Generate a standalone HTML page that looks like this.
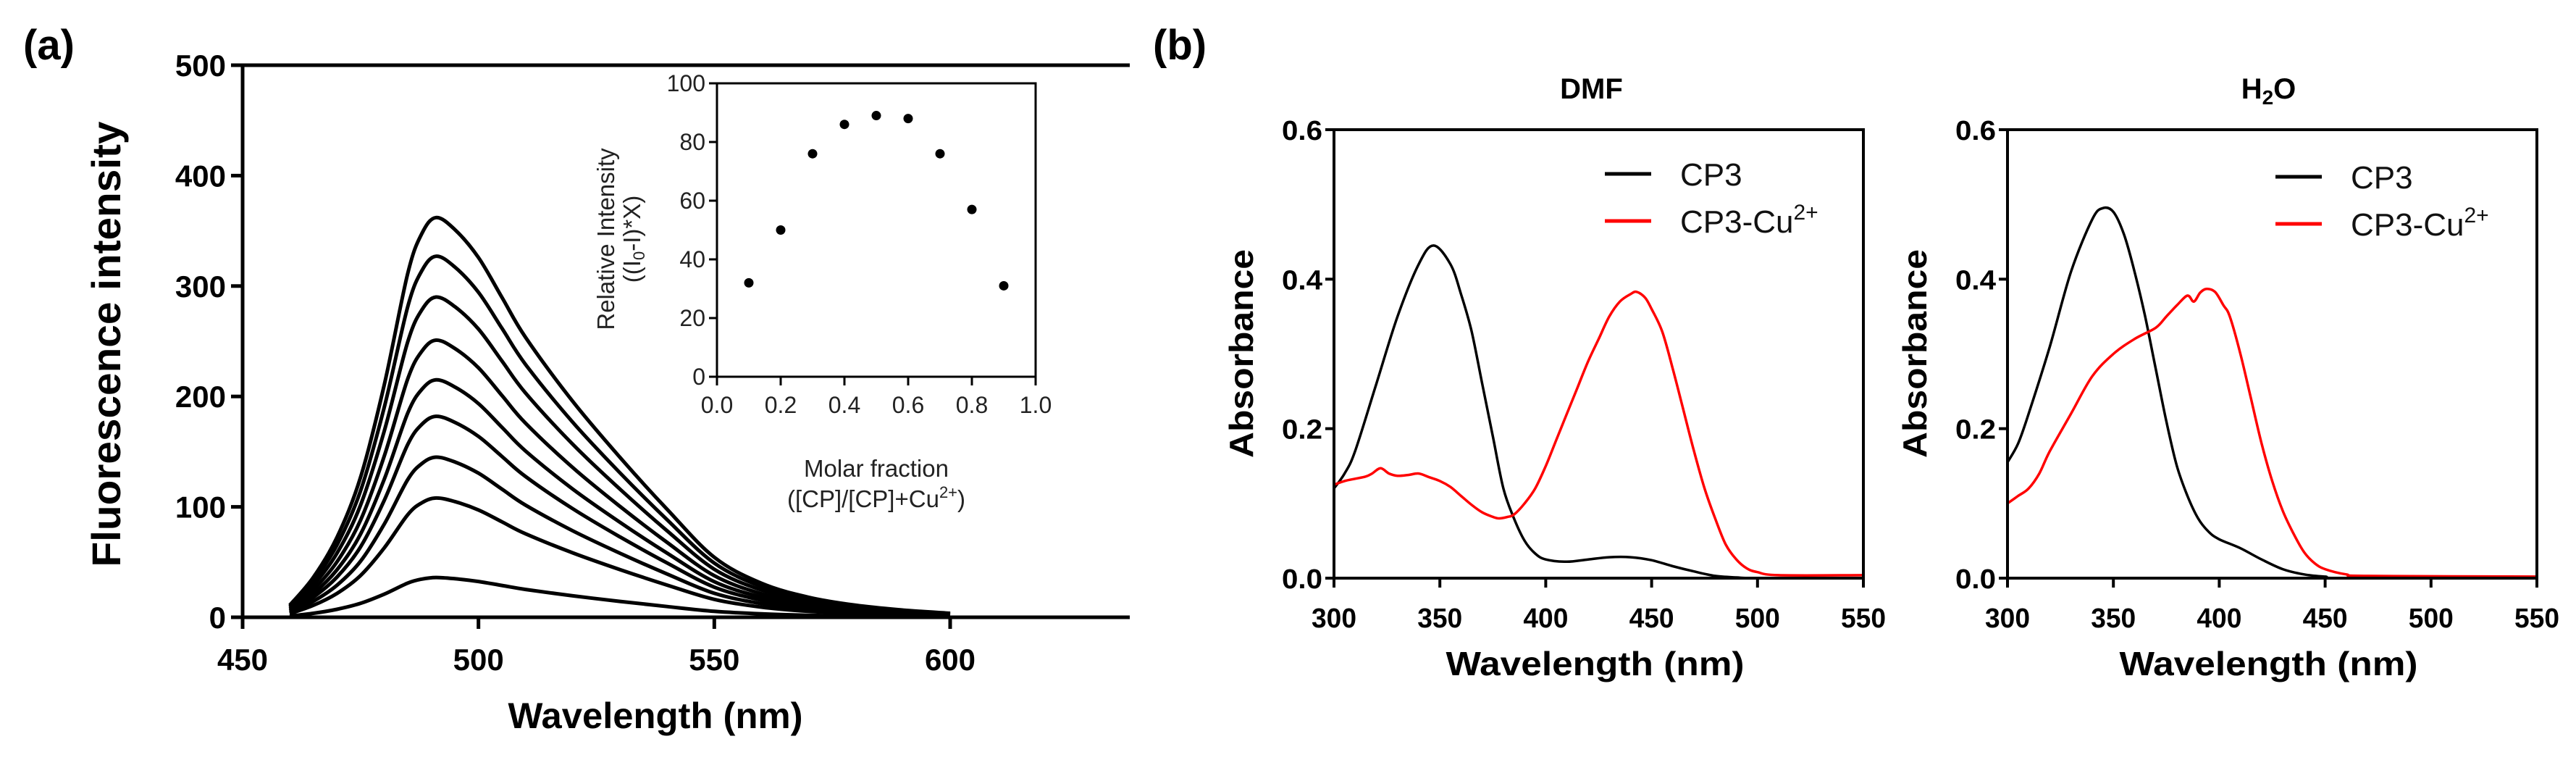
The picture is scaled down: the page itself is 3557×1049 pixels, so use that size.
<!DOCTYPE html>
<html><head><meta charset="utf-8"><style>
html,body{margin:0;padding:0;background:#fff;}
svg{display:block;}
text{font-family:"Liberation Sans",Arial,sans-serif;}
</style></head><body>
<svg id="fig" width="3557" height="1049" viewBox="0 0 3557 1049" xmlns="http://www.w3.org/2000/svg">
<g id="pa"></g>
<g id="pb"></g>
</svg>
<script>
// ---------- Panel (a) data ----------
const fluoWavelengths = [460,465,470,475,480,485,488,491,495,500,505,510,520,530,540,550,560,570,580,590,600];
const fluoShape = [0.03,0.1,0.2,0.35,0.58,0.86,0.96,1.0,0.97,0.9,0.8,0.7,0.54,0.4,0.27,0.15,0.085,0.05,0.03,0.018,0.01];
const fluoPeaks = [362,327,290,251,215,182,145,108,36];
const fluoXTicks = [450,500,550,600];
const fluoYTicks = [0,100,200,300,400,500];
const insetX = [0.1,0.2,0.3,0.4,0.5,0.6,0.7,0.8,0.9];
const insetY = [32,50,76,86,89,88,76,57,31];
const insetXTicks = ["0.0","0.2","0.4","0.6","0.8","1.0"];
const insetYTicks = [0,20,40,60,80,100];
// ---------- Panel (b) data ----------
const absXTicks = [300,350,400,450,500,550];
const absYTicks = ["0.0","0.2","0.4","0.6"];
const dmfCP3X = [300,305,310,320,330,340,347,355,360,365,370,375,380,385,390,395,400,410,420,430,440,450,460,470,480,490,500,550];
const dmfCP3Y = [0.12,0.14,0.17,0.26,0.35,0.42,0.445,0.42,0.38,0.33,0.26,0.19,0.12,0.08,0.05,0.033,0.025,0.022,0.025,0.028,0.028,0.024,0.016,0.009,0.003,0.001,0,0];
const dmfCuX = [300,305,310,315,318,322,326,330,335,340,345,350,355,360,365,370,375,378,382,385,390,395,400,405,410,415,420,425,430,435,440,443,447,450,455,460,465,470,475,480,485,490,495,500,510,550];
const dmfCuY = [0.125,0.13,0.133,0.136,0.14,0.147,0.14,0.137,0.138,0.14,0.135,0.13,0.122,0.11,0.098,0.088,0.082,0.08,0.082,0.085,0.1,0.12,0.15,0.185,0.22,0.255,0.29,0.32,0.35,0.37,0.38,0.383,0.375,0.36,0.33,0.28,0.225,0.17,0.12,0.08,0.045,0.025,0.013,0.008,0.004,0.004];
const h2oCP3X = [300,305,310,320,330,340,345,350,355,360,365,370,375,380,385,390,395,400,410,420,430,440,450,460,550];
const h2oCP3Y = [0.155,0.18,0.22,0.31,0.41,0.48,0.495,0.49,0.46,0.41,0.35,0.28,0.21,0.15,0.11,0.08,0.062,0.052,0.04,0.025,0.012,0.005,0.002,0,0];
const h2oCuX = [300,305,310,315,320,330,340,350,360,370,375,380,385,388,391,394,398,402,405,410,415,420,425,430,435,440,445,450,460,470,550];
const h2oCuY = [0.1,0.11,0.12,0.14,0.17,0.22,0.27,0.3,0.32,0.335,0.35,0.365,0.378,0.37,0.382,0.387,0.383,0.365,0.35,0.3,0.24,0.18,0.13,0.09,0.06,0.035,0.02,0.012,0.005,0.003,0.002];

const NS="http://www.w3.org/2000/svg";
function mk(parent,tag,attrs,txt){const e=document.createElementNS(NS,tag);for(const k in attrs)e.setAttribute(k,attrs[k]);if(txt!==undefined)e.textContent=txt;parent.appendChild(e);return e;}
function lin(d0,d1,p0,p1){return v=>p0+(v-d0)*(p1-p0)/(d1-d0);}
function pathFrom(xs,ys,sx,sy){
  const P=xs.map((x,i)=>[sx(x),sy(ys[i])]);
  let d='M'+P[0][0].toFixed(1)+','+P[0][1].toFixed(1);
  for(let i=0;i<P.length-1;i++){
    const p0=P[Math.max(0,i-1)],p1=P[i],p2=P[i+1],p3=P[Math.min(P.length-1,i+2)];
    const c1=[p1[0]+(p2[0]-p0[0])/6,p1[1]+(p2[1]-p0[1])/6];
    const c2=[p2[0]-(p3[0]-p1[0])/6,p2[1]-(p3[1]-p1[1])/6];
    d+=` C${c1[0].toFixed(1)},${c1[1].toFixed(1)} ${c2[0].toFixed(1)},${c2[1].toFixed(1)} ${p2[0].toFixed(1)},${p2[1].toFixed(1)}`;
  }
  return d;
}

// ---------- Panel (a) ----------
const pa=document.getElementById('pa');
let t=mk(pa,'text',{x:32,y:82,'font-size':58,'font-weight':'bold','font-family':'Liberation Serif,serif'},'(a)');


const ax=lin(450,600,335,1312), ay=lin(0,500,852,90);
fluoPeaks.forEach((pk,ci)=>{
  const ys=fluoShape.map(s=>s*pk);
  const p=mk(pa,'path',{d:pathFrom(fluoWavelengths,ys,ax,ay),fill:'none',stroke:'#000','stroke-width':5,'stroke-linejoin':'round'});
  
  
});
let axl=mk(pa,'path',{d:`M335,90 L335,852 L1560,852 M335,90 L1560,90`,fill:'none',stroke:'#000','stroke-width':5});


fluoXTicks.forEach(v=>{
  mk(pa,'line',{x1:ax(v),x2:ax(v),y1:852,y2:868,stroke:'#000','stroke-width':5});
  const tx=mk(pa,'text',{x:ax(v),y:925,'font-size':42,'font-weight':'bold','text-anchor':'middle'},v);
  
  
});
fluoYTicks.forEach(v=>{
  mk(pa,'line',{x1:319,x2:335,y1:ay(v),y2:ay(v),stroke:'#000','stroke-width':5});
  const tx=mk(pa,'text',{x:312,y:ay(v)+15,'font-size':42,'font-weight':'bold','text-anchor':'end'},v);
  
  
});
t=mk(pa,'text',{x:905,y:1005,'font-size':50,'font-weight':'bold','text-anchor':'middle',textLength:407,lengthAdjust:'spacingAndGlyphs'},'Wavelength (nm)');


t=mk(pa,'text',{x:0,y:0,'font-size':56,'font-weight':'bold','text-anchor':'middle',textLength:615,lengthAdjust:'spacingAndGlyphs',transform:'translate(166,475) rotate(-90)'},'Fluorescence intensity');


// inset
const ix=lin(0,1,990,1430), iy=lin(0,100,520,115);
let ib=mk(pa,'path',{d:`M990,115 L990,520 L1430,520 L1430,115 Z`,fill:'none',stroke:'#000','stroke-width':3});


insetXTicks.forEach(s=>{
  const v=parseFloat(s);
  mk(pa,'line',{x1:ix(v),x2:ix(v),y1:520,y2:532,stroke:'#000','stroke-width':3});
  const tx=mk(pa,'text',{x:ix(v),y:570,'font-size':32,'text-anchor':'middle',fill:'#222'},s);
  
  
});
insetYTicks.forEach(v=>{
  mk(pa,'line',{x1:979,x2:990,y1:iy(v),y2:iy(v),stroke:'#000','stroke-width':3});
  const tx=mk(pa,'text',{x:974,y:iy(v)+11,'font-size':32,'text-anchor':'end',fill:'#222'},v);
  
  
});
insetX.forEach((x,i)=>{
  const c=mk(pa,'circle',{cx:ix(x),cy:iy(insetY[i]),r:6.5,fill:'#000'});
  
  
});
t=mk(pa,'text',{x:0,y:0,'font-size':33,'text-anchor':'middle',fill:'#222',transform:'translate(848,330) rotate(-90)'},'Relative  Intensity');


t=mk(pa,'text',{x:0,y:0,'font-size':33,'text-anchor':'middle',fill:'#222',transform:'translate(884,330) rotate(-90)'});
t.innerHTML='((I<tspan font-size="22" dy="6">0</tspan><tspan dy="-6">-I)*X)</tspan>';


t=mk(pa,'text',{x:1210,y:658,'font-size':33,'text-anchor':'middle',fill:'#222'},'Molar fraction');


t=mk(pa,'text',{x:1210,y:700,'font-size':33,'text-anchor':'middle',fill:'#222'});
t.innerHTML='([CP]/[CP]+Cu<tspan font-size="22" dy="-13">2+</tspan><tspan dy="13">)</tspan>';



// ---------- Panel (b) ----------
const pb=document.getElementById('pb');
t=mk(pb,'text',{x:1592,y:82,'font-size':58,'font-weight':'bold','font-family':'Liberation Serif,serif'},'(b)');


function absPanel(name,L,R,titleHtml,ytitleX,legX,legY,series){
  const g=mk(pb,'g',{});
  
  
  const sx=lin(300,550,L,R), sy=lin(0,0.6,798,179);
  series.forEach(s=>{
    const p=mk(g,'path',{d:pathFrom(s.x,s.y,sx,sy),fill:'none',stroke:s.c,'stroke-width':3.5,'stroke-linejoin':'round'});
    
    
  });
  const fr=mk(g,'rect',{x:L,y:179,width:R-L,height:619,fill:'none',stroke:'#000','stroke-width':4});
  
  
  absXTicks.forEach(v=>{
    mk(g,'line',{x1:sx(v),x2:sx(v),y1:798,y2:811,stroke:'#000','stroke-width':4});
    const tx=mk(g,'text',{x:sx(v),y:866,'font-size':38,'font-weight':'bold','text-anchor':'middle',textLength:62,lengthAdjust:'spacingAndGlyphs'},v);
    
    
  });
  absYTicks.forEach(s=>{
    const v=parseFloat(s);
    mk(g,'line',{x1:L-12,x2:L,y1:sy(v),y2:sy(v),stroke:'#000','stroke-width':4});
    const tx=mk(g,'text',{x:L-16,y:sy(v)+14,'font-size':38,'font-weight':'bold','text-anchor':'end',textLength:56,lengthAdjust:'spacingAndGlyphs'},s);
    
    
  });
  let tt=mk(g,'text',{x:(L+R)/2+(name==='h2o'?-5:-10),y:136,'font-size':40,'font-weight':'bold','text-anchor':'middle'});
  tt.innerHTML=titleHtml;
  
  
  tt=mk(g,'text',{x:(L+R)/2-5,y:932,'font-size':46,'font-weight':'bold','text-anchor':'middle',textLength:412,lengthAdjust:'spacingAndGlyphs'},'Wavelength (nm)');
  
  
  tt=mk(g,'text',{x:0,y:0,'font-size':46,'font-weight':'bold','text-anchor':'middle',textLength:288,lengthAdjust:'spacingAndGlyphs',transform:`translate(${ytitleX},488) rotate(-90)`},'Absorbance');
  
  
  const lg=mk(g,'g',{});
  
  
  let le=mk(lg,'line',{x1:legX,x2:legX+64,y1:legY,y2:legY,stroke:'#000','stroke-width':5});
  
  
  le=mk(lg,'text',{x:legX+104,y:legY+16,'font-size':44,fill:'#111'},'CP3');
  
  
  le=mk(lg,'line',{x1:legX,x2:legX+64,y1:legY+65,y2:legY+65,stroke:'#f00','stroke-width':5});
  
  
  le=mk(lg,'text',{x:legX+104,y:legY+81,'font-size':44,fill:'#111'});
  le.innerHTML='CP3-Cu<tspan font-size="30" dy="-18">2+</tspan>';
  
  
}
absPanel('dmf',1842,2573,'DMF',1730,2216,240,[
  {n:'cp3',x:dmfCP3X,y:dmfCP3Y,c:'#000'},{n:'cu',x:dmfCuX,y:dmfCuY,c:'#f00'}]);
absPanel('h2o',2772,3503,'H<tspan font-size="28" dy="8">2</tspan><tspan dy="-8">O</tspan>',2660,3142,244,[
  {n:'cp3',x:h2oCP3X,y:h2oCP3Y,c:'#000'},{n:'cu',x:h2oCuX,y:h2oCuY,c:'#f00'}]);
</script>
</body></html>
